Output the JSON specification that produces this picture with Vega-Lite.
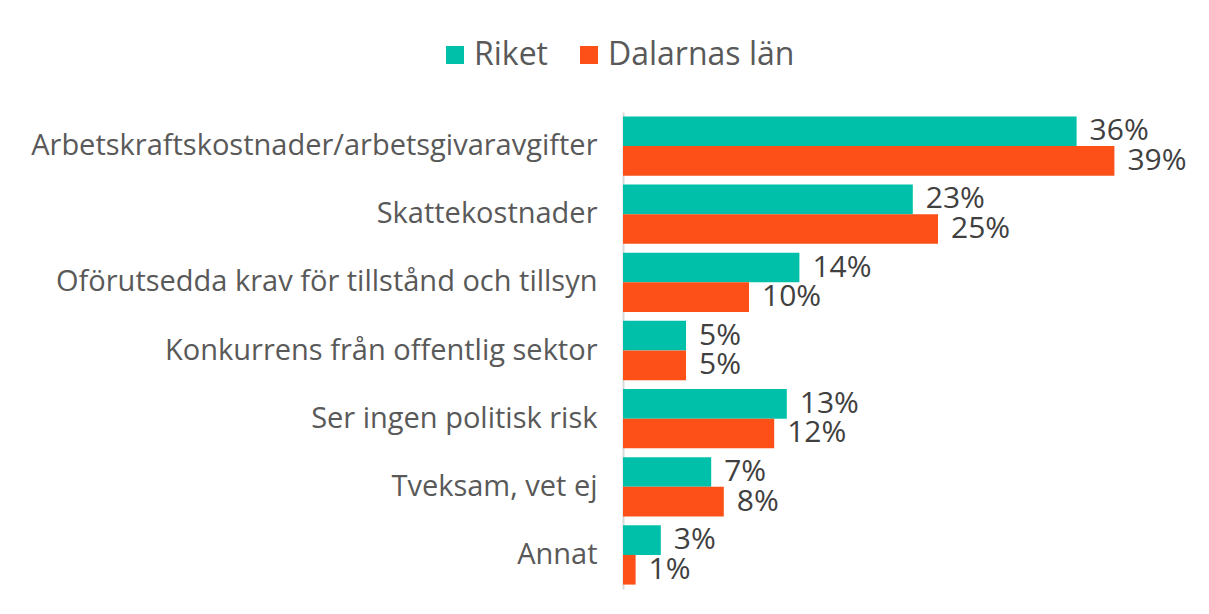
{
  "$schema": "https://vega.github.io/schema/vega-lite/v6.json",
  "width": 504,
  "height": 477,
  "autosize": {"type": "none"},
  "padding": {"left": 623, "top": 112, "right": 82, "bottom": 25},
  "background": "white",
  "config": {"view": {"stroke": null}, "font": "Open Sans"},
  "data": {
    "values": [
      {"kategori": "Arbetskraftskostnader/arbetsgivaravgifter", "serie": "Riket", "varde": 0.36},
      {"kategori": "Arbetskraftskostnader/arbetsgivaravgifter", "serie": "Dalarnas län", "varde": 0.39},
      {"kategori": "Skattekostnader", "serie": "Riket", "varde": 0.23},
      {"kategori": "Skattekostnader", "serie": "Dalarnas län", "varde": 0.25},
      {"kategori": "Oförutsedda krav för tillstånd och tillsyn", "serie": "Riket", "varde": 0.14},
      {"kategori": "Oförutsedda krav för tillstånd och tillsyn", "serie": "Dalarnas län", "varde": 0.10},
      {"kategori": "Konkurrens från offentlig sektor", "serie": "Riket", "varde": 0.05},
      {"kategori": "Konkurrens från offentlig sektor", "serie": "Dalarnas län", "varde": 0.05},
      {"kategori": "Ser ingen politisk risk", "serie": "Riket", "varde": 0.13},
      {"kategori": "Ser ingen politisk risk", "serie": "Dalarnas län", "varde": 0.12},
      {"kategori": "Tveksam, vet ej", "serie": "Riket", "varde": 0.07},
      {"kategori": "Tveksam, vet ej", "serie": "Dalarnas län", "varde": 0.08},
      {"kategori": "Annat", "serie": "Riket", "varde": 0.03},
      {"kategori": "Annat", "serie": "Dalarnas län", "varde": 0.01}
    ]
  },
  "encoding": {
    "y": {
      "field": "kategori",
      "type": "nominal",
      "sort": null,
      "scale": {"paddingInner": 0.13, "paddingOuter": 0.065},
      "axis": {
        "title": null,
        "ticks": false,
        "domainColor": "#d9d9d9",
        "domainWidth": 2,
        "labelFont": "Open Sans",
        "labelFontSize": 29,
        "labelColor": "#595959",
        "labelPadding": 26,
        "labelLimit": 700
      }
    },
    "yOffset": {"field": "serie", "type": "nominal", "sort": ["Riket", "Dalarnas län"]},
    "x": {
      "field": "varde",
      "type": "quantitative",
      "scale": {"domain": [0, 0.4], "nice": false},
      "axis": null
    }
  },
  "layer": [
    {
      "mark": {"type": "bar"},
      "encoding": {
        "color": {
          "field": "serie",
          "type": "nominal",
          "sort": ["Riket", "Dalarnas län"],
          "scale": {"domain": ["Riket", "Dalarnas län"], "range": ["#00C0A9", "#FC5018"]},
          "legend": {
            "title": null,
            "orient": "none",
            "direction": "horizontal",
            "legendX": -184,
            "legendY": -73,
            "padding": 0,
            "symbolType": "square",
            "symbolSize": 324,
            "symbolStrokeWidth": 0,
            "labelFont": "Open Sans",
            "labelFontSize": 32,
            "labelColor": "#595959",
            "labelOffset": 3,
            "columnPadding": 24,
            "labelLimit": 400
          }
        }
      }
    },
    {
      "mark": {"type": "text", "align": "left", "baseline": "middle", "dx": 13, "fontSize": 30, "color": "#404040", "font": "Open Sans"},
      "encoding": {
        "text": {"field": "varde", "type": "quantitative", "format": ".0%"}
      }
    }
  ]
}
